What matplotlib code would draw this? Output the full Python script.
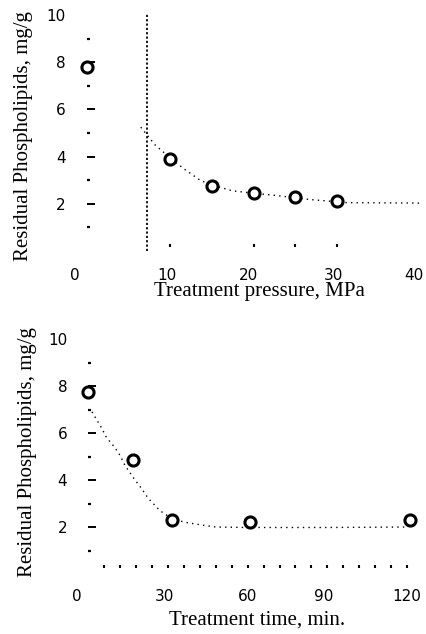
import matplotlib
matplotlib.use("Agg")
import matplotlib.pyplot as plt
import matplotlib.transforms as mtransforms

# ---- data ----
pressure = [0, 10, 15, 20, 25, 30]
pl_pressure = [7.8, 3.9, 2.75, 2.47, 2.3, 2.1]
fit_p_x = [6.5, 8.2, 10, 11.8, 13.6, 15, 17.5, 20, 22.8, 26.8, 31.2, 40]
fit_p_y = [5.25, 4.5, 3.95, 3.45, 3.0, 2.8, 2.55, 2.45, 2.35, 2.18, 2.05, 2.03]
crit_pressure = 7.2

time_min = [0, 17, 31.5, 61, 121]
pl_time = [7.75, 4.85, 2.3, 2.2, 2.3]
fit_t_x = [1.5, 5.2, 7, 10, 12, 14, 17.7, 20, 22.6, 27, 31.6, 36.5, 43, 48, 60, 90, 120]
fit_t_y = [6.9, 6.2, 5.8, 5.4, 5.06, 4.6, 4.0, 3.66, 3.23, 2.7, 2.35, 2.2, 2.08, 2.0,
           1.98, 1.98, 2.0]

y_ticks = [2, 4, 6, 8, 10]
y_minor = [1, 3, 5, 7, 9]
x1_ticks = [0, 10, 20, 30, 40]
x1_minor = [10, 20, 25, 30]
x2_ticks = [0, 30, 60, 90, 120]
x2_minor = list(range(6, 121, 6))

ylabel = "Residual Phospholipids, mg/g"
xlabel1 = "Treatment pressure, MPa"
xlabel2 = "Treatment time, min."

fig = plt.figure(figsize=(4.27, 6.34), dpi=100)
serif = dict(family="Liberation Serif", size=15)


def style(ax, xspine_y, xticks, xminor, label_shifts):
    for s in ["top", "right", "left", "bottom"]:
        ax.spines[s].set_visible(False)
    ax.spines["left"].set_position(("data", 0))
    ax.spines["bottom"].set_position(("data", xspine_y))
    ax.xaxis.remove_overlapping_locs = False
    ax.set_yticks(y_ticks)
    ax.set_yticks(y_minor, minor=True)
    ax.set_xticks(xticks)
    ax.set_xticks(xminor, minor=True)
    ax.tick_params(axis="y", which="major", direction="in", length=6, width=1.4,
                   pad=15, labelsize=11)
    ax.tick_params(axis="y", which="minor", direction="in", length=2, width=1.6)
    ax.tick_params(axis="x", which="major", length=0, pad=15, labelsize=11)
    ax.tick_params(axis="x", which="minor", direction="in", length=2, width=1.5)
    ax.yaxis.get_major_ticks()[-1].tick1line.set_visible(False)
    for lab in ax.get_xticklabels() + ax.get_yticklabels():
        lab.set_family("DejaVu Sans")
    for lab, dx in zip(ax.get_xticklabels(), label_shifts):
        off = mtransforms.ScaledTranslation(dx / 100, 0, fig.dpi_scale_trans)
        lab.set_transform(lab.get_transform() + off)


# ---- top panel ----
ax1 = fig.add_axes([69.8 / 427, (634 - 251) / 634, 354.9 / 427, 243 / 634])
ax1.set_xlim(-2, 40.5)
ax1.set_ylim(0, 10.3)
style(ax1, 0.15, x1_ticks, x1_minor, [-12, -3, -5, -4, -7])
ax1.axvline(crit_pressure, ymin=0.0, ymax=10.05 / 10.3, color="black",
            lw=1.3, ls=(0, (1.2, 1.2)))
ax1.plot(fit_p_x, fit_p_y, color="black", lw=1.0, ls=(0, (1, 3)))
ax1.plot(pressure, pl_pressure, ls="none", marker="o", ms=8, mfc="white",
         mec="black", mew=2.2)
ax1.set_ylabel(ylabel, fontdict=serif)
ax1.yaxis.set_label_coords(-0.104, 0.473)
ax1.set_xlabel(xlabel1, fontdict=serif)
ax1.xaxis.set_label_coords(0.5345, -0.128)

# ---- bottom panel ----
ax2 = fig.add_axes([72.0 / 427, (634 - 574) / 634, 351.2 / 427, 242 / 634])
ax2.set_xlim(-6, 126)
ax2.set_ylim(0, 10.3)
style(ax2, 0.25, x2_ticks, x2_minor, [-11, -3, 0, -4, 0])
ax2.plot(fit_t_x, fit_t_y, color="black", lw=1.0, ls=(0, (1, 3)))
ax2.plot(time_min, pl_time, ls="none", marker="o", ms=8, mfc="white",
         mec="black", mew=2.2)
ax2.set_ylabel(ylabel, fontdict=serif)
ax2.yaxis.set_label_coords(-0.0997, 0.504)
ax2.set_xlabel(xlabel2, fontdict=serif)
ax2.xaxis.set_label_coords(0.528, -0.150)

fig.savefig("out.png", dpi=100)
